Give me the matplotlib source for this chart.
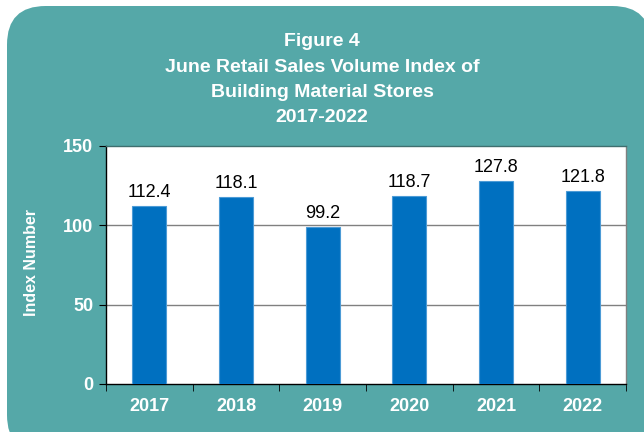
import matplotlib
matplotlib.use("Agg")
import matplotlib.pyplot as plt
from matplotlib.patches import FancyBboxPatch

years = ["2017", "2018", "2019", "2020", "2021", "2022"]
values = [112.4, 118.1, 99.2, 118.7, 127.8, 121.8]
yticks = [0, 50, 100, 150]
title_lines = ["Figure 4", "June Retail Sales Volume Index of",
               "Building Material Stores", "2017-2022"]

W, H = 644, 432
plt.rcParams['font.family'] = ['Liberation Sans', 'DejaVu Sans']
fig = plt.figure(figsize=(W / 100, H / 100), dpi=100)
fig.patch.set_facecolor('white')

teal = '#55A8A8'
box = FancyBboxPatch((7 / W, -0.05), 1.0, (H - 6) / H + 0.05,
                     boxstyle="round,pad=0,rounding_size=0.06",
                     transform=fig.transFigure, facecolor=teal, edgecolor='none',
                     mutation_aspect=W / H, zorder=-10)
fig.patches.append(box)

for i, line in enumerate(title_lines):
    fig.text(322 / W, 1 - (42 + 25.3 * i) / H, line, ha='center', va='center',
             color='white', fontsize=14, fontweight='bold')

ax = fig.add_axes([106 / W, 1 - 384 / H, (626 - 106) / W, (384 - 146) / H])
ax.set_zorder(5)
ax.set_facecolor('white')
x = list(range(len(years)))
ax.bar(x, values, width=0.39, color='#0070C0', edgecolor='#4C9BD6',
       linewidth=0.8, zorder=3)
ax.set_xlim(-0.5, len(years) - 0.5)
ax.set_ylim(0, 150)
ax.set_yticks(yticks)
ax.set_yticklabels([str(t) for t in yticks], color='white', fontweight='bold', fontsize=13)
ax.set_xticks(x)
ax.set_xticklabels(years, color='white', fontweight='bold', fontsize=13)
ax.tick_params(axis='x', length=0, pad=10)
ax.set_xticks([i - 0.5 for i in range(len(years) + 1)], minor=True)
ax.tick_params(axis='x', which='minor', length=5, direction='out', color='black')
ax.tick_params(axis='y', length=5, direction='out', color='black', pad=4)
for t in [50, 100]:
    ax.axhline(t, color='#808080', linewidth=1, zorder=1)
ax.spines['left'].set_color('black')
ax.spines['bottom'].set_color('black')
ax.spines['top'].set_color('#3F6F6F')
ax.spines['right'].set_color('#808080')
for s in ax.spines.values():
    s.set_linewidth(1)

for xi, v in zip(x, values):
    ax.annotate(f"{v:.1f}", (xi, v), xytext=(0, 3.5), textcoords='offset points',
                ha='center', va='bottom', fontsize=13, color='black')

fig.text(32 / W, 1 - 263 / H, "Index Number", rotation=90, ha='center', va='center',
         color='white', fontweight='bold', fontsize=11.5)

fig.savefig('out.png', dpi=100, facecolor=fig.get_facecolor())
